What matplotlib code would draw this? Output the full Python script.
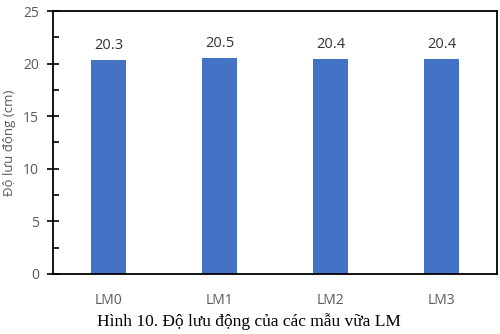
import matplotlib.pyplot as plt
from matplotlib.ticker import MultipleLocator

categories = ['LM0', 'LM1', 'LM2', 'LM3']
values = [20.3, 20.5, 20.4, 20.4]
labels = ['20.3', '20.5', '20.4', '20.4']

gray = '#595959'
plt.rcParams['font.family'] = ['Open Sans', 'DejaVu Sans']

fig = plt.figure(figsize=(5, 3.34), dpi=100)
ax = fig.add_axes([0.106, 0.18, 0.888, 0.787])

x = range(len(categories))
bars = ax.bar(x, values, width=0.315, color='#4472C4')
for b, t in zip(bars, labels):
    ax.annotate(t, (b.get_x() + b.get_width() / 2, b.get_height()),
                xytext=(0, 5), textcoords='offset points',
                ha='center', va='bottom', fontsize=10.5, color='#333333')

ax.set_xlim(-0.5, len(categories) - 0.5)
ax.set_ylim(0, 25)
ax.set_xticks(list(x))
ax.set_xticklabels(categories)
ax.yaxis.set_major_locator(MultipleLocator(5))
ax.yaxis.set_minor_locator(MultipleLocator(2.5))
ax.tick_params(axis='y', which='major', direction='inout', length=8, width=1.2,
               labelsize=10, labelcolor=gray, pad=6)
ax.tick_params(axis='y', which='minor', direction='in', length=4, width=1.2)
ax.tick_params(axis='x', length=0, labelsize=10, labelcolor=gray, pad=14)
for s in ax.spines.values():
    s.set_linewidth(1.3)
    s.set_color('black')

ax.set_ylabel('Độ lưu động (cm)', fontsize=9.5, color=gray, labelpad=5)

fig.text(0.497, 0.036, 'Hình 10. Độ lưu động của các mẫu vữa LM',
         ha='center', va='center', fontsize=12.5, family='Liberation Serif')

fig.savefig('out.png', dpi=100)
